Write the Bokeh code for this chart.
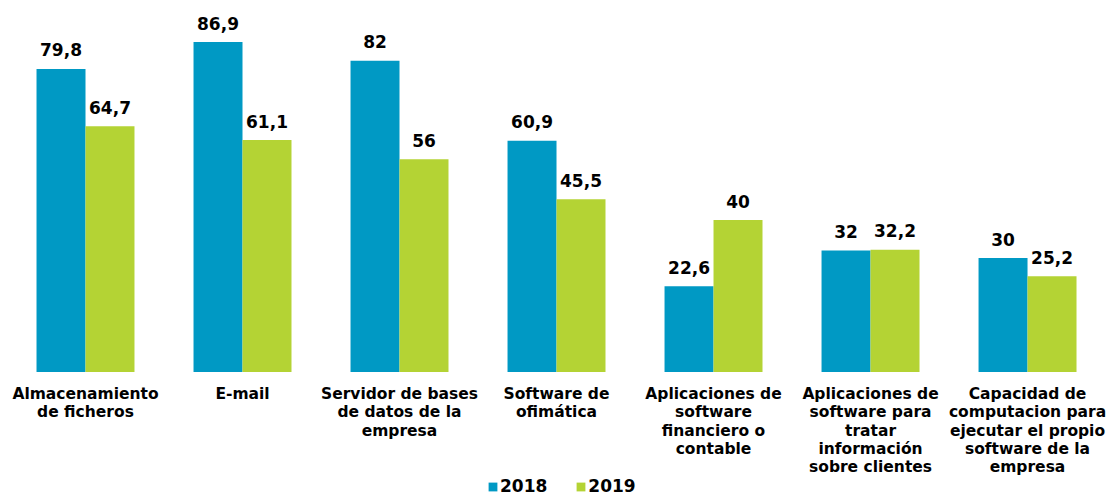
from bokeh.plotting import figure
from bokeh.models import ColumnDataSource, Range1d, Legend, LegendItem
from bokeh.transform import dodge
from bokeh.core.properties import value
from bokeh.embed import file_html
from bokeh.resources import INLINE

categories = [
    "Almacenamiento\nde ficheros",
    "E-mail",
    "Servidor de bases\nde datos de la\nempresa",
    "Software de\nofimática",
    "Aplicaciones de\nsoftware\nfinanciero o\ncontable",
    "Aplicaciones de\nsoftware para\ntratar\ninformación\nsobre clientes",
    "Capacidad de\ncomputacion para\nejecutar el propio\nsoftware de la\nempresa",
]
series_names = ["2018", "2019"]
values_2018 = [79.8, 86.9, 82, 60.9, 22.6, 32, 30]
values_2019 = [64.7, 61.1, 56, 45.5, 40, 32.2, 25.2]

BLUE = "#0099c4"
GREEN = "#b4d334"
FONT = value("DejaVu Sans")


def fmt(v):
    return f"{v:g}".replace(".", ",")


x = list(range(len(categories)))
src = ColumnDataSource(dict(
    x=x,
    cat=categories,
    zero=[0] * len(x),
    v18=values_2018,
    v19=values_2019,
    l18=[fmt(v) for v in values_2018],
    l19=[fmt(v) for v in values_2019],
))

p = figure(width=1106, height=496, output_backend="svg", toolbar_location=None,
           x_axis_location=None, y_axis_location=None,
           x_range=Range1d(-0.5414, 6.503), y_range=Range1d(-32.79, 97.84),
           min_border=0, outline_line_color=None)
p.xgrid.visible = False
p.ygrid.visible = False

bw = 0.312
r18 = p.vbar(x=dodge("x", -bw / 2), top="v18", width=bw, source=src,
             fill_color=BLUE, line_color=None)
r19 = p.vbar(x=dodge("x", bw / 2), top="v19", width=bw, source=src,
             fill_color=GREEN, line_color=None)

common = dict(text_font=FONT, text_font_style="bold", text_font_size="17px",
              text_color="#000000", text_align="center", text_baseline="middle",
              y_offset=-19, source=src)
p.text(x=dodge("x", -bw / 2), y="v18", text="l18", **common)
p.text(x=dodge("x", bw / 2), y="v19", text="l19", **common)

p.text(x="x", y="zero", text="cat", text_font=FONT, text_font_style="bold",
       text_font_size="15.5px", text_color="#000000", text_align="center",
       text_baseline="top", text_line_height=1.02, y_offset=13, source=src)

legend = Legend(items=[LegendItem(label=series_names[0], renderers=[r18]),
                       LegendItem(label=series_names[1], renderers=[r19])],
                orientation="horizontal", location=(487, 0),
                label_text_font="DejaVu Sans", label_text_font_style="bold",
                label_text_font_size="17px", label_text_color="#000000",
                label_height=16, glyph_width=11, glyph_height=11,
                label_standoff=2, spacing=28, padding=0, margin=0,
                border_line_color=None, background_fill_alpha=0)
p.add_layout(legend, "center")

open("out.html", "w").write(file_html(p, INLINE))
